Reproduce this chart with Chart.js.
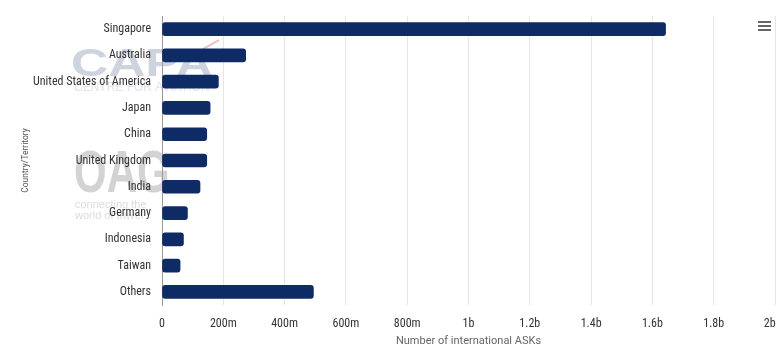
<!DOCTYPE html>
<html>
<head>
<meta charset="utf-8">
<script src="https://cdn.jsdelivr.net/npm/chart.js@4.4.1/dist/chart.umd.min.js"></script>
<style>
  html, body { margin: 0; padding: 0; background: #fff; }
  #wrap { width: 784px; height: 351px; position: relative; }
</style>
</head>
<body>
<div id="wrap"><canvas id="chart"></canvas></div>
<script>
// chart data
const countries = ['Singapore', 'Australia', 'United States of America', 'Japan', 'China',
  'United Kingdom', 'India', 'Germany', 'Indonesia', 'Taiwan', 'Others'];
const asks = [1643e6, 273e6, 184e6, 157e6, 146e6, 146e6, 124e6, 83e6, 70e6, 59e6, 494e6];
const xMax = 2e9;
const xStep = 200e6;

function fmtAsk(v) {
  if (v === 0) return '0';
  if (v < 1e9) return Math.round(v / 1e6) + 'm';
  // last label sits a bit left of its gridline, like the original
  if (v === xMax) return (v / 1e9) + 'b\u2002\u2002';
  return (v / 1e9) + 'b';
}

const narrow = '"Liberation Sans Narrow", "Roboto Condensed", Roboto, sans-serif';

// faint logos + menu icon
const decor = {
  id: 'decor',
  beforeDraw(chart) {
    const c = chart.ctx;
    c.save();
    c.textBaseline = 'alphabetic';
    // CAPA watermark
    c.save();
    c.translate(71, 76);
    c.scale(1.32, 1);
    c.fillStyle = '#cdd3df';
    c.font = 'bold 39px "Liberation Sans", Arial, sans-serif';
    c.fillText('CAPA', 0, 0);
    c.restore();
    c.fillStyle = '#e0e3ea';
    c.font = '12px "Liberation Sans", Arial, sans-serif';
    c.fillText('CENTRE FOR AVIATION', 74, 91);
    c.strokeStyle = '#f3b8b8';
    c.lineWidth = 2;
    c.beginPath(); c.moveTo(203, 49); c.lineTo(219, 40); c.stroke();
    // OAG watermark
    c.save();
    c.translate(74, 192);
    c.scale(0.7, 1);
    c.fillStyle = '#d3d3d3';
    c.font = 'bold 60px "Liberation Sans", Arial, sans-serif';
    c.fillText('OAG', 0, 0);
    c.restore();
    c.fillStyle = '#dcdcdc';
    c.font = '11px "Liberation Sans", Arial, sans-serif';
    c.fillText('connecting the', 75, 208);
    c.fillText('world of travel', 75, 219);
    c.restore();
  },
  afterDraw(chart) {
    const c = chart.ctx;
    c.save();
    c.strokeStyle = '#666';
    c.lineWidth = 2;
    [22, 26, 30].forEach(y => {
      c.beginPath(); c.moveTo(758, y); c.lineTo(771, y); c.stroke();
    });
    c.restore();
  }
};

Chart.defaults.font.family = 'Roboto, "Noto Sans", sans-serif';

new Chart(document.getElementById('chart'), {
  type: 'bar',
  data: {
    labels: countries,
    datasets: [{
      data: asks,
      backgroundColor: '#0e2b66',
      borderWidth: 0,
      borderRadius: 3,
      borderSkipped: false,
      barThickness: 13
    }]
  },
  options: {
    indexAxis: 'y',
    responsive: true,
    maintainAspectRatio: false,
    animation: false,
    layout: { padding: { left: 21, right: 9, top: 16, bottom: 0 } },
    plugins: {
      legend: { display: false },
      tooltip: { enabled: false }
    },
    scales: {
      x: {
        min: 0,
        max: xMax,
        ticks: {
          stepSize: xStep,
          color: '#333',
          font: { size: 12, family: narrow },
          padding: 12,
          callback: v => fmtAsk(v)
        },
        grid: { color: '#e6e6e6', drawTicks: false },
        border: { display: false },
        title: {
          display: true,
          text: 'Number of international ASKs',
          color: '#666',
          font: { size: 11 },
          padding: { top: 0, bottom: 3 }
        },
        afterFit(s) { s.height = 46; s.paddingLeft = 0; s.paddingRight = 0; }
      },
      y: {
        ticks: { color: '#333', font: { size: 12, family: narrow }, padding: 11, autoSkip: false },
        grid: { display: false, drawTicks: false },
        border: { display: true, color: '#999', width: 1 },
        title: {
          display: true,
          text: 'Country/Territory',
          color: '#555',
          font: { size: 8.5 },
          padding: { top: 0, bottom: 0 }
        },
        afterFit(s) { s.width = 141; s.paddingTop = 0; s.paddingBottom = 0; }
      }
    }
  },
  plugins: [decor]
});
</script>
</body>
</html>
